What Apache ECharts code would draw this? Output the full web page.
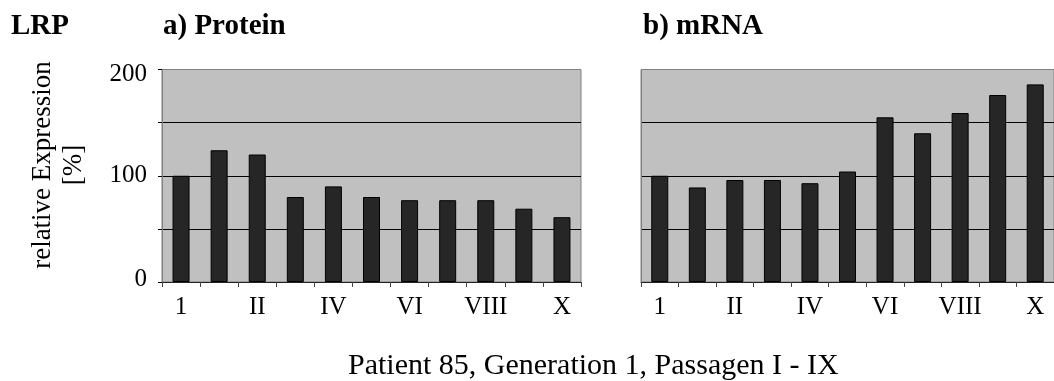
<!DOCTYPE html>
<html>
<head>
<meta charset="utf-8">
<script src="https://cdn.jsdelivr.net/npm/echarts@6/dist/echarts.min.js"></script>
<style>
  html, body { margin: 0; padding: 0; background: #fff; }
  #chart { width: 1054px; height: 381px; }
</style>
</head>
<body>
<div id="chart"></div>
<script>
// Passages (every other label is shown on the axis)
const passages = ['1', 'I', 'II', 'III', 'IV', 'V', 'VI', 'VII', 'VIII', 'IX', 'X'];
// Relative expression in percent
const proteinValues = [100, 124, 120, 80, 90, 80, 77, 77, 77, 69, 61];
const mrnaValues = [100, 89, 96, 96, 93, 104, 155, 140, 159, 176, 186];
const yTicks = { min: 0, max: 200, interval: 50 };

const FONT = 'Liberation Serif';
const chart = echarts.init(document.getElementById('chart'));

function xAxis(gridIndex) {
  return {
    type: 'category',
    gridIndex: gridIndex,
    data: passages,
    boundaryGap: true,
    axisLine: { show: true, lineStyle: { color: '#222', width: 1 } },
    axisTick: { show: true, interval: 0, length: 5, lineStyle: { color: '#444' } },
    axisLabel: {
      interval: 1, color: '#000', fontFamily: FONT, fontSize: 25, margin: 13
    }
  };
}

function yAxis(gridIndex, showLabels) {
  return {
    type: 'value',
    gridIndex: gridIndex,
    min: yTicks.min,
    max: yTicks.max,
    interval: yTicks.interval,
    axisLine: { show: true, lineStyle: { color: '#808080', width: 1 } },
    axisTick: { show: showLabels, length: 4, lineStyle: { color: '#000' } },
    axisLabel: {
      show: showLabels, color: '#000', fontFamily: FONT, fontSize: 25, margin: 15,
      // the end labels sit slightly inside the plot range
      formatter: v => {
        if (v === yTicks.max) return '{hi|' + v + '}';
        if (v === yTicks.min) return '{lo|' + v + '}';
        return v % 100 === 0 ? String(v) : '';
      },
      rich: {
        hi: { fontFamily: FONT, fontSize: 25, color: '#000', padding: [9, 0, 0, 0] },
        lo: { fontFamily: FONT, fontSize: 25, color: '#000', padding: [0, 0, 6, 0] }
      }
    },
    splitLine: {
      show: true,
      lineStyle: { color: ['#000', '#000', '#000', '#000', '#808080'], width: 1 }
    }
  };
}

function barSeries(index, values) {
  return {
    type: 'bar',
    xAxisIndex: index,
    yAxisIndex: index,
    data: values,
    barWidth: 17,
    itemStyle: { color: '#262626', borderColor: '#000', borderWidth: 1 },
    silent: true
  };
}

chart.setOption({
  animation: false,
  grid: [
    { left: 162, top: 69.5, width: 419, height: 212.5, show: true,
      backgroundColor: '#c0c0c0', borderColor: '#808080', borderWidth: 1 },
    { left: 641, top: 69.5, width: 419, height: 212.5, show: true,
      backgroundColor: '#c0c0c0', borderColor: '#808080', borderWidth: 1 }
  ],
  xAxis: [xAxis(0), xAxis(1)],
  yAxis: [yAxis(0, true), yAxis(1, false)],
  series: [barSeries(0, proteinValues), barSeries(1, mrnaValues)],
  graphic: [
    { type: 'text', x: 11, y: 27,
      style: { text: 'LRP', font: 'bold 29px "Liberation Serif"', fill: '#000',
               align: 'left', verticalAlign: 'middle' } },
    { type: 'text', x: 163, y: 27,
      style: { text: 'a) Protein', font: 'bold 29px "Liberation Serif"', fill: '#000',
               align: 'left', verticalAlign: 'middle' } },
    { type: 'text', x: 643, y: 27,
      style: { text: 'b) mRNA', font: 'bold 29px "Liberation Serif"', fill: '#000',
               align: 'left', verticalAlign: 'middle' } },
    { type: 'text', x: 43, y: 165, rotation: Math.PI / 2,
      style: { text: 'relative Expression', font: '27px "Liberation Serif"', fill: '#000',
               align: 'center', verticalAlign: 'middle' } },
    { type: 'text', x: 74, y: 165, rotation: Math.PI / 2,
      style: { text: '[%]', font: '27px "Liberation Serif"', fill: '#000',
               align: 'center', verticalAlign: 'middle' } },
    { type: 'text', x: 348, y: 366,
      style: { text: 'Patient 85, Generation 1, Passagen I - IX', font: '30px "Liberation Serif"',
               fill: '#000', align: 'left', verticalAlign: 'middle' } }
  ]
});
</script>
</body>
</html>
